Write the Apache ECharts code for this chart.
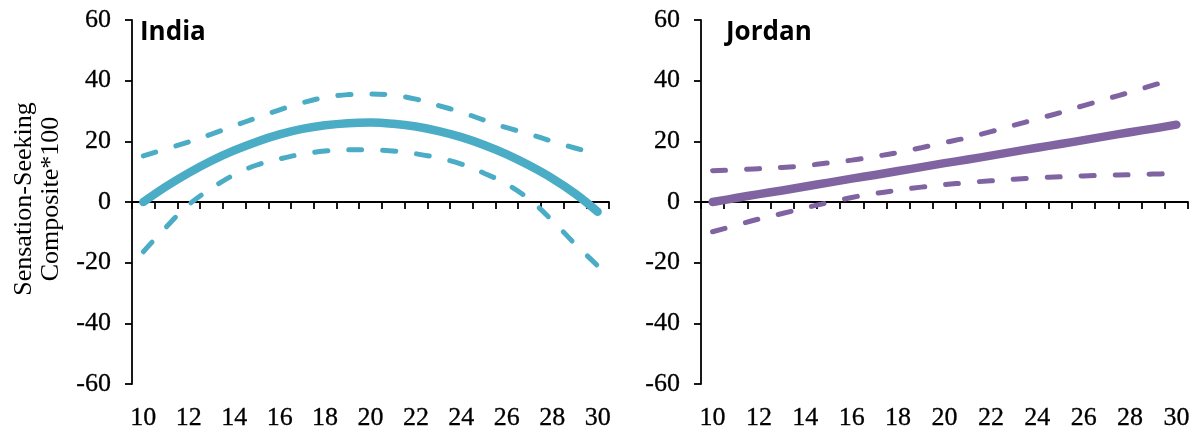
<!DOCTYPE html>
<html>
<head>
<meta charset="utf-8">
<script src="https://cdn.jsdelivr.net/npm/echarts@6/dist/echarts.min.js"></script>
<style>html,body{margin:0;padding:0;background:#fff;}#c{width:1195px;height:434px;}</style>
</head>
<body>
<div id="c"></div>
<script>
var ages = ['10','11','12','13','14','15','16','17','18','19','20','21','22','23','24','25','26','27','28','29','30'];
var yTicks = {min: -60, max: 60, interval: 20};
var panelTitles = ['India', 'Jordan'];
var yTitle = 'Sensation-Seeking\nComposite*100';

var indiaFit   = [0, 5.1, 9.6, 13.6, 17.0, 19.9, 22.3, 24.1, 25.3, 26.0, 26.2, 25.8, 24.9, 23.4, 21.4, 18.8, 15.7, 12.0, 7.8, 2.8, -3.2];
var indiaUpper = [15.2, 17.5, 19.8, 22.4, 25.1, 27.8, 30.4, 32.7, 34.5, 35.4, 35.6, 35.2, 33.9, 31.8, 29.6, 27.0, 24.5, 22.4, 20.0, 17.8, 15.8];
var indiaLower = [-16.4, -8.3, -0.9, 4.5, 9.0, 12.2, 14.2, 15.8, 16.8, 17.2, 17.2, 16.8, 15.9, 14.5, 12.5, 9.5, 5.9, 0.8, -6.1, -13.8, -21.0];

var jordanFit   = [0, 1.3, 2.6, 3.8, 5.1, 6.4, 7.7, 8.9, 10.2, 11.5, 12.8, 14.0, 15.3, 16.6, 17.9, 19.1, 20.4, 21.7, 23.0, 24.2, 25.5];
var jordanUpper = [10.3, 10.6, 11.0, 11.4, 12.0, 12.9, 13.8, 15.0, 16.3, 17.9, 19.6, 21.2, 23.2, 25.3, 27.4, 29.5, 31.8, 34.0, 36.2, 38.5, 40.8];
var jordanLower = [-9.8, -7.7, -5.6, -3.8, -1.9, -0.2, 1.5, 2.8, 3.9, 4.9, 5.7, 6.4, 7.0, 7.5, 8.0, 8.3, 8.6, 8.8, 9.0, 9.2, 9.4];

var colors = ['#4BACC6', '#8064A2'];

var chart = echarts.init(document.getElementById('c'), null, {renderer: 'canvas'});
var tickFont = {fontFamily: 'Liberation Serif', fontSize: 26, color: '#000', textBorderColor: '#000', textBorderWidth: 0.3};
var axisLine = {show: true, onZero: true, lineStyle: {color: '#000', width: 1.8}};

var grids = [
  {left: 132, right: 586, top: 20, bottom: 50},
  {left: 701, right: 7, top: 20, bottom: 50}
];
var xAxes = [], yAxes = [];
for (var g = 0; g < 2; g++) {
  xAxes.push({
    type: 'category', gridIndex: g, data: ages, boundaryGap: true, position: 'bottom',
    axisLine: axisLine,
    axisTick: {show: true, interval: 0, alignWithLabel: false, inside: false, length: 7, lineStyle: {color: '#000', width: 1.8}},
    axisLabel: {show: false}, splitLine: {show: false}
  });
  xAxes.push({
    type: 'category', gridIndex: g, data: ages, boundaryGap: true, position: 'bottom',
    axisLine: {show: false, onZero: false}, axisTick: {show: false},
    axisLabel: Object.assign({show: true, interval: 1, margin: 21}, tickFont),
    splitLine: {show: false}
  });
  yAxes.push({
    type: 'value', gridIndex: g, min: yTicks.min, max: yTicks.max, interval: yTicks.interval,
    axisLine: {show: true, lineStyle: {color: '#000', width: 1.8}},
    axisTick: {show: true, length: 7, lineStyle: {color: '#000', width: 1.8}},
    axisLabel: Object.assign({margin: 21}, tickFont),
    splitLine: {show: false}
  });
}

function fitLine(data, g, color) {
  return {type: 'line', xAxisIndex: g * 2, yAxisIndex: g, data: data, smooth: 0.4, symbol: 'none',
    lineStyle: {color: color, width: 8.5, cap: 'round', join: 'round'}, z: 3, silent: true};
}
function ciLine(data, g, color) {
  return {type: 'line', xAxisIndex: g * 2, yAxisIndex: g, data: data, smooth: 0.4, symbol: 'none',
    lineStyle: {color: color, width: 5, type: [13, 21], cap: 'round'}, z: 2, silent: true};
}

chart.setOption({
  animation: false,
  title: [
    {text: panelTitles[0], left: 135, top: 15, textStyle: {fontFamily: 'Open Sans', fontWeight: 'bold', fontSize: 26, color: '#000'}},
    {text: panelTitles[1], left: 721, top: 15, textStyle: {fontFamily: 'Open Sans', fontWeight: 'bold', fontSize: 26, color: '#000'}}
  ],
  grid: grids,
  xAxis: xAxes,
  yAxis: yAxes,
  graphic: [{
    type: 'text', x: 38, y: 199, rotation: Math.PI / 2,
    style: {text: yTitle, align: 'center', verticalAlign: 'middle', fontFamily: 'Liberation Serif', fontSize: 26, lineHeight: 27, fill: '#000'}
  }],
  series: [
    ciLine(indiaUpper, 0, colors[0]), ciLine(indiaLower, 0, colors[0]), fitLine(indiaFit, 0, colors[0]),
    ciLine(jordanUpper, 1, colors[1]), ciLine(jordanLower, 1, colors[1]), fitLine(jordanFit, 1, colors[1])
  ]
});
</script>
</body>
</html>
